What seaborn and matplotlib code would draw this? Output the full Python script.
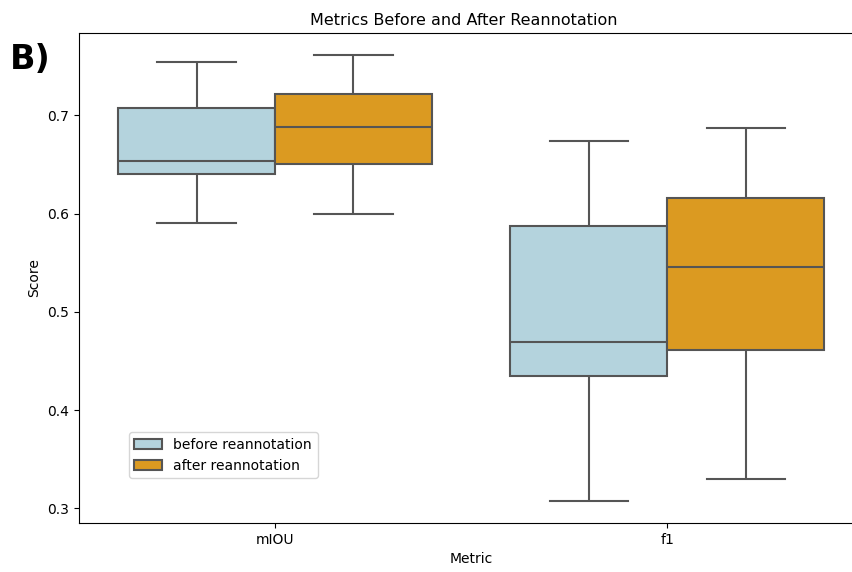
import pandas as pd
import matplotlib.pyplot as plt
import seaborn as sns

# five-number summaries: min, q1, median, q3, max
metrics = ['mIOU', 'f1']
groups = ['before reannotation', 'after reannotation']
miou_before = [0.590, 0.640, 0.654, 0.708, 0.754]
miou_after = [0.600, 0.651, 0.688, 0.722, 0.761]
f1_before = [0.308, 0.435, 0.469, 0.587, 0.674]
f1_after = [0.330, 0.461, 0.546, 0.616, 0.687]

rows = []
for metric, before, after in [('mIOU', miou_before, miou_after), ('f1', f1_before, f1_after)]:
    for v in before:
        rows.append({'Metric': metric, 'Score': v, 'Reannotation': groups[0]})
    for v in after:
        rows.append({'Metric': metric, 'Score': v, 'Reannotation': groups[1]})
df = pd.DataFrame(rows)

fig = plt.figure(figsize=(8.52, 5.72), dpi=100)
# the original image is cropped on the right, so the axes runs past the edge
ax = fig.add_axes([0.0925, 0.086, 0.921, 0.856])
sns.boxplot(data=df, x='Metric', y='Score', hue='Reannotation', order=metrics,
            hue_order=groups, palette=['#B4D3DD', '#DB9A21'], saturation=1,
            linecolor='#555555', linewidth=1.5, ax=ax)
ax.set_title('Metrics Before and After Reannotation', x=0.49, fontsize=11.5)
ax.legend(title=None, loc='lower left', bbox_to_anchor=(0.055, 0.077))
fig.text(0.012, 0.88, 'B)', fontsize=24, fontweight='bold')
fig.savefig('out.png', dpi=100)
